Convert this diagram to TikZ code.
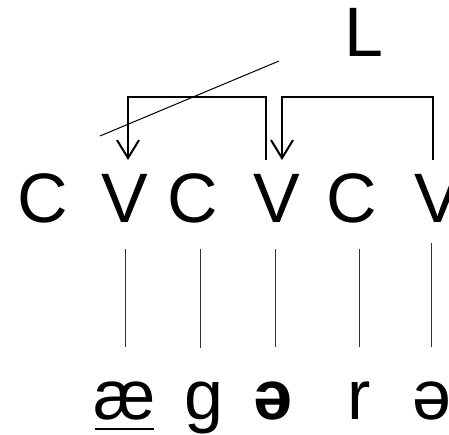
\documentclass[tikz,border=0pt]{standalone}
\usepackage{fontspec}
\setmainfont{Liberation Sans}
\usetikzlibrary{arrows.meta}
\begin{document}
\begin{tikzpicture}[x=1pt,y=-1pt,
  seg/.style={inner sep=0pt,anchor=base,font=\fontsize{70}{84}\selectfont},
  bracket/.style={line width=2pt},
  arr/.style={bracket,-{Straight Barb[length=18pt,width=22pt,line width=2pt]}},
  assoc/.style={line width=0.8pt,black!80},
  delink/.style={line width=1pt}]
\useasboundingbox (0,0) rectangle (449,435);
\begin{scope}
\clip (0,0) rectangle (449,435);
% skeleton
\node[seg] (c1) at (43,223) {C};
\node[seg] (v1) at (125,223) {V};
\node[seg] (c2) at (193,223) {C};
\node[seg] (v2) at (277,223) {V};
\node[seg] (c3) at (352,223) {C};
\node[seg] (v3) at (438,223) {V};
% L
\node[seg,anchor=base west] (L) at (344,57) {L};
% melody
\node[seg] (ae) at (125,419) {æ};
\node[seg] (g) at (204,419) {g};
\node[seg,font=\fontsize{70}{84}\selectfont\bfseries] (schwa1) at (273,419) {ə};
\node[seg] (r) at (359,419) {r};
\node[seg] (schwa2) at (432,419) {ə};
% brackets
\coordinate (b1s) at (266,160);
\coordinate (b1t) at (128,160);
\coordinate (b2s) at (433,160);
\coordinate (b2t) at (282,160);
\draw[arr] (b1s) -- (b1s |- 0,97) -- (b1t |- 0,97) -- (b1t);
\draw[arr] (b2s) -- (b2s |- 0,97) -- (b2t |- 0,97) -- (b2t);
% delinking line
\coordinate (d1) at (100,136);
\coordinate (d2) at (279,61);
\draw[delink] (d1) -- (d2);
% association lines
\coordinate (a1t) at (125,249); \coordinate (a1b) at (125,347);
\coordinate (a2t) at (200,249); \coordinate (a2b) at (200,348);
\coordinate (a3t) at (275,249); \coordinate (a3b) at (275,347);
\coordinate (a4t) at (359,249); \coordinate (a4b) at (359,347);
\coordinate (a5t) at (431,243); \coordinate (a5b) at (431,347);
\draw[assoc] (a1t) -- (a1b);
\draw[assoc] (a2t) -- (a2b);
\draw[assoc] (a3t) -- (a3b);
\draw[assoc] (a4t) -- (a4b);
\draw[assoc] (a5t) -- (a5b);
% underline
\coordinate (u1) at (95,429);
\coordinate (u2) at (154,429);
\draw[line width=2.5pt] (u1) -- (u2);
\end{scope}
\end{tikzpicture}
\end{document}
